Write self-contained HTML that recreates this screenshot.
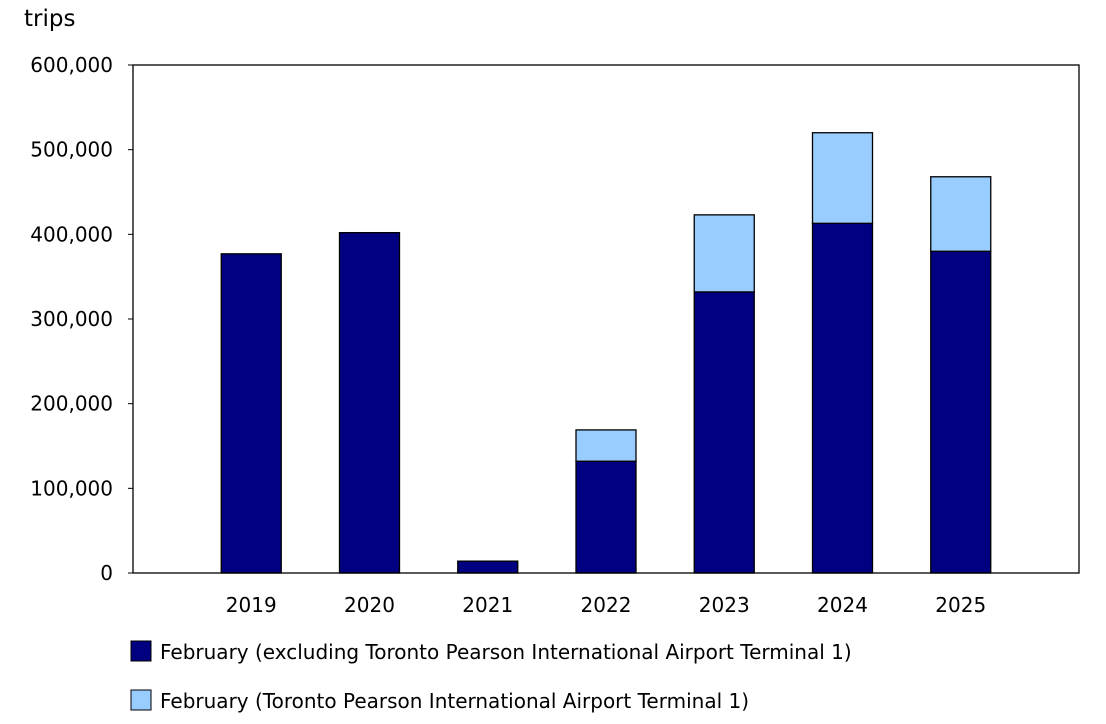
<!DOCTYPE html>
<html><head><meta charset="utf-8">
<style>
html,body{margin:0;padding:0;background:#fff;}
svg{display:block;font-family:"DejaVu Sans","Liberation Sans",sans-serif;}
</style></head>
<body>
<svg id="chart" width="1106" height="724" viewBox="0 0 1106 724" xmlns="http://www.w3.org/2000/svg">
<text x="24" y="26" font-size="23" fill="#000">trips</text>
<g id="yticks"></g>
<g id="bars"></g>
<rect x="133" y="65" width="946" height="508" fill="none" stroke="#000" stroke-width="1.3"/>
<g id="xlabels"></g>
<g>
  <g>
    <rect x="131" y="641" width="20" height="20" fill="#000080" stroke="#000" stroke-width="1"/>
    <text x="160" y="659" font-size="20" fill="#000">February (excluding Toronto Pearson International Airport Terminal 1)</text>
  </g>
  <g>
    <rect x="131" y="690" width="20" height="20" fill="#99ccff" stroke="#000" stroke-width="1"/>
    <text x="160" y="708" font-size="20" fill="#000">February (Toronto Pearson International Airport Terminal 1)</text>
  </g>
</g>
</svg>
<script>
const categories = ["2019","2020","2021","2022","2023","2024","2025"];
const excludingT1 = [377000, 402000, 14000, 132000, 332000, 413000, 380000];
const terminal1 = [0, 0, 0, 37000, 91000, 107000, 88000];
const yTicks = [0, 100000, 200000, 300000, 400000, 500000, 600000];
const yTickLabels = ["0","100,000","200,000","300,000","400,000","500,000","600,000"];

const NS = "http://www.w3.org/2000/svg";
const plotL = 133, plotR = 1079, plotT = 65, plotB = 573, yMax = 600000;
const slot = (plotR - plotL) / (categories.length + 1);
function y(v){ return plotB - v / yMax * (plotB - plotT); }
function x(i){ return plotL + slot * (i + 1); }
const barW = 60;

const yg = document.getElementById('yticks');
yTicks.forEach((t, i) => {
  const ln = document.createElementNS(NS, 'line');
  
  
  ln.setAttribute('x1', plotL - 5); ln.setAttribute('x2', plotL);
  ln.setAttribute('y1', y(t)); ln.setAttribute('y2', y(t));
  ln.setAttribute('stroke', '#000');
  yg.appendChild(ln);
  const tx = document.createElementNS(NS, 'text');
  
  
  tx.setAttribute('x', 113); tx.setAttribute('y', y(t) + 7);
  tx.setAttribute('text-anchor', 'end');
  tx.setAttribute('font-size', '20');
  tx.textContent = yTickLabels[i];
  yg.appendChild(tx);
});

const bg = document.getElementById('bars');
const xg = document.getElementById('xlabels');
categories.forEach((c, i) => {
  const cx = x(i);
  const r1 = document.createElementNS(NS, 'rect');
  
  
  r1.setAttribute('x', cx - barW/2); r1.setAttribute('width', barW);
  r1.setAttribute('y', y(excludingT1[i])); r1.setAttribute('height', y(0) - y(excludingT1[i]));
  r1.setAttribute('fill', '#000080'); r1.setAttribute('stroke', '#000'); r1.setAttribute('stroke-width', '1.3');
  bg.appendChild(r1);
  if (terminal1[i] > 0) {
    const top = excludingT1[i] + terminal1[i];
    const r2 = document.createElementNS(NS, 'rect');
    
    
    r2.setAttribute('x', cx - barW/2); r2.setAttribute('width', barW);
    r2.setAttribute('y', y(top)); r2.setAttribute('height', y(excludingT1[i]) - y(top));
    r2.setAttribute('fill', '#99ccff'); r2.setAttribute('stroke', '#000'); r2.setAttribute('stroke-width', '1.3');
    bg.appendChild(r2);
  }
  const tx = document.createElementNS(NS, 'text');
  
  
  tx.setAttribute('x', cx); tx.setAttribute('y', 612);
  tx.setAttribute('text-anchor', 'middle');
  tx.setAttribute('font-size', '20');
  tx.textContent = c;
  xg.appendChild(tx);
});
</script>
</body></html>
